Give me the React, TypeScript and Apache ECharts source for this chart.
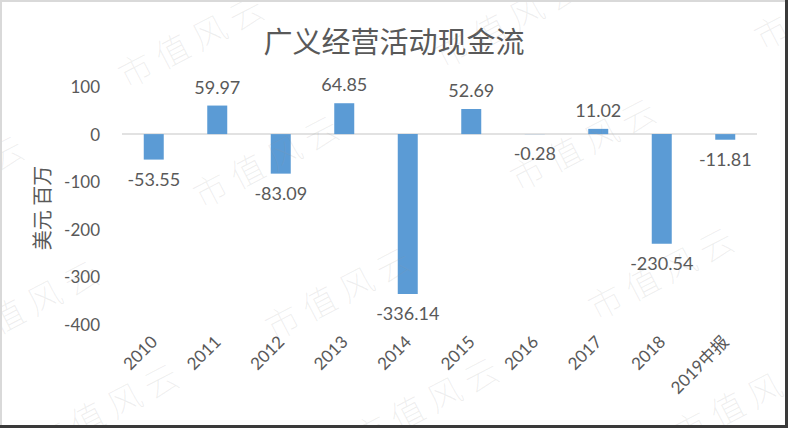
import React, { useEffect, useRef } from "react";
import * as echarts from "echarts";

const categories = ["2010", "2011", "2012", "2013", "2014", "2015", "2016", "2017", "2018", "2019中报"];
const cashFlow = [-53.55, 59.97, -83.09, 64.85, -336.14, 52.69, -0.28, 11.02, -230.54, -11.81];
const yTicks = { min: -400, max: 100, interval: 100 };
const titleText = "广义经营活动现金流";
const yName = "美元 百万";
const watermarkText = "市 值 风 云";

const watermarkSpots: [number, number][] = [
  [190, 40], [507, 20], [826, 2],
  [-50, 180], [265, 160], [582, 143], [900, 122],
  [25, 305], [337, 292], [660, 272],
  [105, 408], [425, 402], [745, 398],
];

export default function App() {
  const ref = useRef<HTMLDivElement>(null);
  useEffect(() => {
    if (!ref.current) return;
    const chart = echarts.init(ref.current, null, { renderer: "svg" });
    const textColor = "#595959";
    const numFont = "Lato, 'Noto Sans', sans-serif";
    const cjkFont = "'Noto Sans CJK SC', 'Noto Sans', sans-serif";

    const watermarks = watermarkSpots.map(([x, y]) => ({
      type: "text",
      x,
      y,
      rotation: 0.48,
      z: 100,
      silent: true,
      style: {
        text: watermarkText,
        fontSize: 34,
        fontFamily: cjkFont,
        fontWeight: "lighter",
        fill: "rgba(150,150,150,0.17)",
        align: "center",
        verticalAlign: "middle",
      },
    }));

    chart.setOption({
      animation: false,
      backgroundColor: "#ffffff",
      title: {
        text: titleText,
        left: "center",
        top: 20,
        textStyle: { fontSize: 29, fontWeight: "normal", color: textColor, fontFamily: cjkFont },
      },
      grid: { left: 122, right: 31, top: 86.5, bottom: 103.5 },
      xAxis: {
        type: "category",
        data: categories,
        axisLine: { show: false, onZero: false },
        axisTick: { show: false },
        axisLabel: {
          rotate: 45,
          margin: 14,
          fontSize: 17,
          color: textColor,
          fontFamily: `Lato, ${cjkFont}`,
          interval: 0,
        },
      },
      yAxis: {
        type: "value",
        min: yTicks.min,
        max: yTicks.max,
        interval: yTicks.interval,
        splitLine: { show: false },
        axisLine: { show: false },
        axisTick: { show: false },
        axisLabel: { fontSize: 17, color: textColor, fontFamily: numFont, margin: 22 },
      },
      series: [
        {
          type: "bar",
          barWidth: 20,
          itemStyle: { color: "#5B9BD5" },
          data: cashFlow.map((v) => ({
            value: v,
            label: { position: v >= 0 ? "top" : "bottom" },
          })),
          label: {
            show: true,
            distance: 10,
            fontSize: 18,
            color: textColor,
            fontFamily: numFont,
            formatter: "{c}",
          },
          markLine: {
            silent: true,
            symbol: "none",
            label: { show: false },
            lineStyle: { color: "#d9d9d9", width: 1.5, type: "solid" },
            data: [{ yAxis: 0 }],
            z: 1,
          },
        },
      ],
      graphic: [
        {
          type: "text",
          x: 41,
          y: 208,
          rotation: Math.PI / 2,
          style: {
            text: yName,
            fontSize: 20,
            fontFamily: cjkFont,
            fill: textColor,
            align: "center",
            verticalAlign: "middle",
          },
        },
        ...watermarks,
        { type: "rect", shape: { x: 0, y: 0, width: 788, height: 2 }, style: { fill: "#d9d9d9" }, z: 110 },
        { type: "rect", shape: { x: 0, y: 0, width: 2, height: 428 }, style: { fill: "#d9d9d9" }, z: 110 },
        { type: "rect", shape: { x: 785, y: 0, width: 3, height: 428 }, style: { fill: "#3a3a3a" }, z: 110 },
        { type: "rect", shape: { x: 0, y: 425, width: 788, height: 3 }, style: { fill: "#3a3a3a" }, z: 110 },
      ],
    });
    return () => chart.dispose();
  }, []);
  return <div ref={ref} style={{ position: "fixed", left: 0, top: 0, width: 788, height: 428 }} />;
}
